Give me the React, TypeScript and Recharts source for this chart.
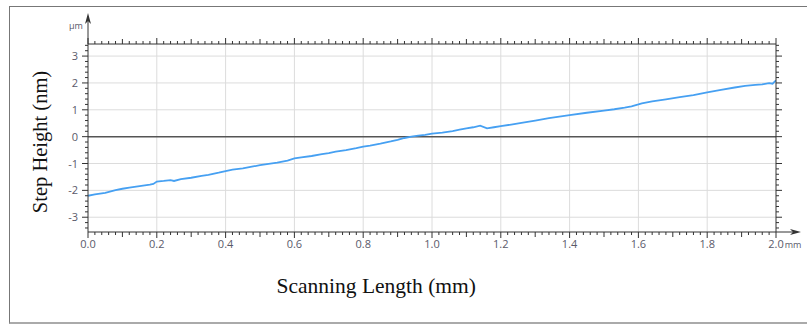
import React from "react";
import { ComposedChart, Line, XAxis, YAxis, ReferenceLine, Label } from "recharts";

// scanning length (mm)
const scanX = [
  0.0, 0.02, 0.05, 0.08, 0.1, 0.12, 0.15, 0.18, 0.19, 0.2, 0.22, 0.24, 0.25, 0.27, 0.3, 0.33, 0.35,
  0.38, 0.4, 0.42, 0.45, 0.48, 0.5, 0.52, 0.55, 0.58, 0.6, 0.62, 0.65, 0.68, 0.7, 0.72, 0.75, 0.78,
  0.8, 0.82, 0.85, 0.88, 0.9, 0.92, 0.94, 0.96, 0.98, 1.0, 1.03, 1.06, 1.08, 1.1, 1.12, 1.14, 1.16,
  1.18, 1.2, 1.23, 1.26, 1.3, 1.34, 1.4, 1.45, 1.5, 1.53, 1.56, 1.58, 1.6, 1.61, 1.64, 1.68, 1.72,
  1.76, 1.8, 1.84, 1.88, 1.91, 1.94, 1.96, 1.98, 1.99, 2.0,
];

// step height
const stepY = [
  -2.2, -2.15, -2.09, -1.99, -1.94, -1.9, -1.84, -1.79, -1.76, -1.67, -1.65, -1.62, -1.65, -1.58,
  -1.53, -1.46, -1.42, -1.34, -1.28, -1.23, -1.18, -1.11, -1.06, -1.02, -0.97, -0.89, -0.81, -0.77,
  -0.72, -0.65, -0.61, -0.56, -0.5, -0.43, -0.37, -0.33, -0.26, -0.18, -0.12, -0.05, 0.0, 0.04, 0.07,
  0.11, 0.15, 0.21, 0.26, 0.31, 0.35, 0.41, 0.31, 0.35, 0.39, 0.45, 0.51, 0.6, 0.69, 0.8, 0.89, 0.97,
  1.02, 1.08, 1.13, 1.2, 1.24, 1.31, 1.39, 1.47, 1.55, 1.65, 1.74, 1.83, 1.89, 1.93, 1.95, 1.99, 1.97,
  2.1,
];

const xTicks = [0, 0.2, 0.4, 0.6, 0.8, 1.0, 1.2, 1.4, 1.6, 1.8, 2.0];
const yTicks = [-3, -2, -1, 0, 1, 2, 3];
const xMinorTicks = Array.from({ length: 101 }, (_, i) => +(i * 0.02).toFixed(2));
const yMinorTicks = Array.from({ length: 35 }, (_, i) => +(-3.4 + i * 0.2).toFixed(1));

const X_DOMAIN = [0, 2];
const Y_DOMAIN = [-3.55, 3.45];

const data = scanX.map((x, i) => ({ x, y: stepY[i] }));

const AXIS = "#333";
const TICK_FONT = { fontFamily: "'Open Sans', sans-serif", fontSize: 11, fill: "#5a5a6a" };

const near = (v: number, step: number) => Math.abs(v / step - Math.round(v / step)) < 1e-6;

function xLen(v: number) {
  if (near(v, 0.2)) return 6;
  if (near(v, 0.1)) return 5;
  return 3;
}

function yLen(v: number) {
  return near(v, 1) ? 6 : 3;
}

function BottomTick({ x, y, payload }: any) {
  const v = payload.value;
  return (
    <g>
      <line x1={x} x2={x} y1={y} y2={y + xLen(v)} stroke={AXIS} />
      {near(v, 0.2) && (
        <text x={x} y={y + 16} textAnchor="middle" {...TICK_FONT}>
          {v.toFixed(1)}
        </text>
      )}
    </g>
  );
}

function TopTick({ x, y, payload }: any) {
  return <line x1={x} x2={x} y1={y} y2={y - xLen(payload.value)} stroke={AXIS} />;
}

function LeftTick({ x, y, payload }: any) {
  const v = payload.value;
  return (
    <g>
      <line x1={x - yLen(v)} x2={x} y1={y} y2={y} stroke={AXIS} />
      {near(v, 1) && (
        <text x={x - 10} y={y + 4} textAnchor="end" {...TICK_FONT}>
          {v}
        </text>
      )}
    </g>
  );
}

function RightTick({ x, y, payload }: any) {
  return <line x1={x} x2={x + yLen(payload.value)} y1={y} y2={y} stroke={AXIS} />;
}

function YArrow(props: any) {
  const { x1, y1, y2 } = props;
  const top = Math.min(y1, y2);
  return (
    <g>
      <line x1={x1} x2={x1} y1={top} y2={top - 26} stroke={AXIS} />
      <path d={`M${x1},${top - 31} L${x1 - 3},${top - 20} L${x1},${top - 23} L${x1 + 3},${top - 20} Z`} fill={AXIS} />
      <text x={x1 - 12} y={top - 15} textAnchor="middle" fontFamily="'Open Sans', sans-serif" fontSize={9} fill="#5a5a6a">
        µm
      </text>
    </g>
  );
}

function XArrow(props: any) {
  const { x1, x2, y1 } = props;
  const right = Math.max(x1, x2);
  return (
    <g>
      <line x1={right} x2={right + 20} y1={y1} y2={y1} stroke={AXIS} />
      <path d={`M${right + 25},${y1} L${right + 14},${y1 - 3} L${right + 17},${y1} L${right + 14},${y1 + 3} Z`} fill={AXIS} />
      <text x={right + 17} y={y1 + 16} textAnchor="middle" fontFamily="'Open Sans', sans-serif" fontSize={9} fill="#5a5a6a">
        mm
      </text>
    </g>
  );
}

function XTitle({ viewBox }: any) {
  if (!viewBox) return null;
  return (
    <text
      x={viewBox.x + viewBox.width * 0.419}
      y={viewBox.y + 61}
      textAnchor="middle"
      fontFamily="'Liberation Serif', 'Times New Roman', serif"
      fontSize={21.5}
      fill="#111"
    >
      Scanning Length (mm)
    </text>
  );
}

function YTitle({ viewBox }: any) {
  if (!viewBox) return null;
  const cx = viewBox.x + 32;
  const cy = viewBox.y + viewBox.height / 2 + 4;
  return (
    <text
      x={cx}
      y={cy}
      transform={`rotate(-90, ${cx}, ${cy})`}
      textAnchor="middle"
      dominantBaseline="central"
      fontFamily="'Liberation Serif', 'Times New Roman', serif"
      fontSize={20.5}
      fill="#111"
    >
      Step Height (nm)
    </text>
  );
}

export default function App() {
  return (
    <div style={{ position: "absolute", left: 0, top: 0, width: 807, height: 326, background: "#fff" }}>
      <div
        style={{
          position: "absolute",
          left: 9,
          top: 6,
          width: 800,
          height: 318,
          boxSizing: "border-box",
          borderTop: "1px solid #777",
          borderLeft: "1px solid #777",
          borderBottom: "2px solid #aaa",
        }}
      />
      <div style={{ position: "absolute", left: 0, top: 0 }}>
        <ComposedChart width={807} height={326} data={data} margin={{ top: 34, right: 21, left: 8, bottom: 74 }}>
          <XAxis
            xAxisId="x"
            dataKey="x"
            type="number"
            domain={X_DOMAIN}
            ticks={xMinorTicks}
            interval={0}
            allowDataOverflow
            height={20}
            tickSize={0}
            tickMargin={0}
            tickLine={false}
            axisLine={{ stroke: AXIS }}
            tick={<BottomTick />}
          >
            <Label content={<XTitle />} />
          </XAxis>
          <XAxis
            xAxisId="top"
            dataKey="x"
            type="number"
            orientation="top"
            domain={X_DOMAIN}
            ticks={xMinorTicks}
            interval={0}
            allowDataOverflow
            height={10}
            tickSize={0}
            tickMargin={0}
            tickLine={false}
            axisLine={{ stroke: AXIS }}
            tick={<TopTick />}
          />
          <YAxis
            yAxisId="y"
            type="number"
            domain={Y_DOMAIN}
            ticks={yMinorTicks}
            interval={0}
            allowDataOverflow
            width={80}
            tickSize={0}
            tickMargin={0}
            tickLine={false}
            axisLine={{ stroke: AXIS }}
            tick={<LeftTick />}
          >
            <Label content={<YTitle />} />
          </YAxis>
          <YAxis
            yAxisId="right"
            type="number"
            orientation="right"
            domain={Y_DOMAIN}
            ticks={yMinorTicks}
            interval={0}
            allowDataOverflow
            width={10}
            tickSize={0}
            tickMargin={0}
            tickLine={false}
            axisLine={{ stroke: AXIS }}
            tick={<RightTick />}
          />
          {xTicks.slice(1, -1).map((v) => (
            <ReferenceLine key={"gx" + v} x={v} xAxisId="x" yAxisId="y" stroke="#dcdcdc" />
          ))}
          {yTicks
            .filter((v) => v !== 0)
            .map((v) => (
              <ReferenceLine key={"gy" + v} y={v} xAxisId="x" yAxisId="y" stroke="#dcdcdc" />
            ))}
          <ReferenceLine y={0} xAxisId="x" yAxisId="y" stroke="#555" strokeWidth={1.5} />
          <ReferenceLine x={0} xAxisId="x" yAxisId="y" stroke="none" ifOverflow="visible" shape={<YArrow />} />
          <ReferenceLine y={Y_DOMAIN[0]} xAxisId="x" yAxisId="y" stroke="none" ifOverflow="visible" shape={<XArrow />} />
          <Line
            xAxisId="top"
            yAxisId="right"
            dataKey="y"
            stroke="none"
            dot={false}
            activeDot={false}
            legendType="none"
            isAnimationActive={false}
          />
          <Line
            xAxisId="x"
            yAxisId="y"
            dataKey="y"
            type="linear"
            stroke="#46a0f2"
            strokeWidth={1.8}
            dot={false}
            activeDot={false}
            isAnimationActive={false}
          />
        </ComposedChart>
      </div>
    </div>
  );
}
